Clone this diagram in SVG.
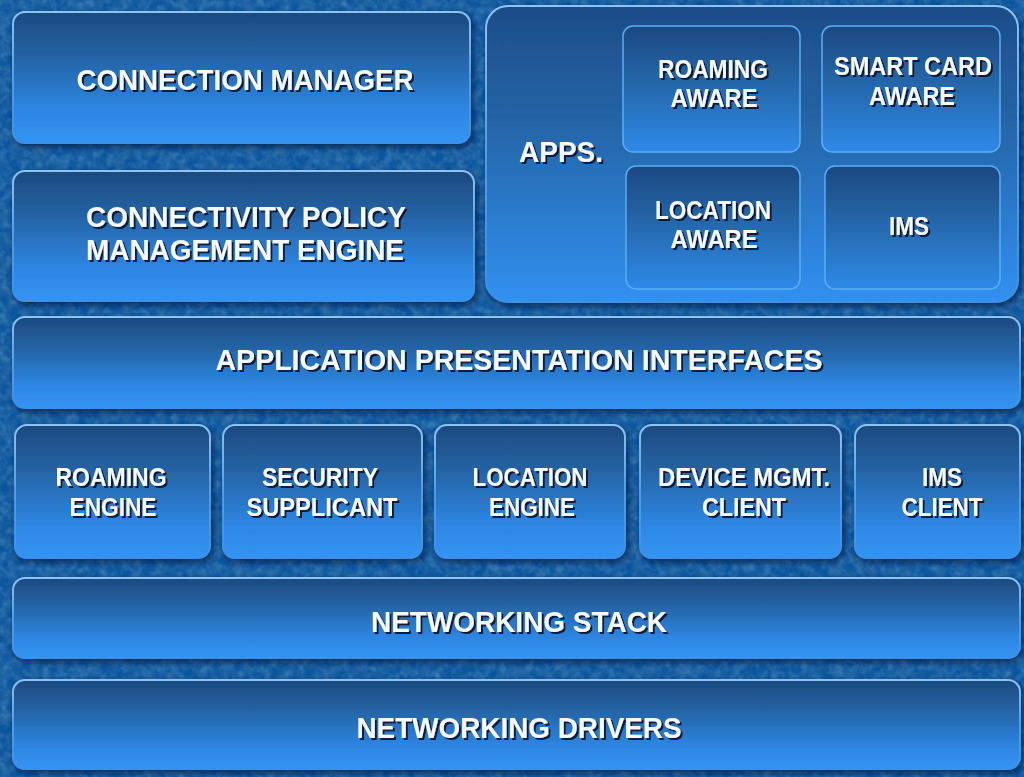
<svg xmlns="http://www.w3.org/2000/svg" width="1024" height="777" viewBox="0 0 1024 777">
<defs>
  <style>
    .box { fill: url(#boxg); stroke: url(#strk); stroke-width: 2; filter: url(#shadow); }
    .inner { fill: url(#innerg); stroke: #5aaef2; stroke-width: 1.5; }
    .apps { fill: url(#appsg); stroke: url(#strk); stroke-width: 2; filter: url(#shadow); }
    .lbl { font-family: "Liberation Sans", "DejaVu Sans", sans-serif; font-weight: bold; fill: #f4f8ff; text-anchor: middle; filter: url(#tshadow); }
    .big { font-size: 30px; }
    .sm { font-size: 26px; }
  </style>
  <linearGradient id="boxg" x1="0" y1="0" x2="0" y2="1">
    <stop offset="0" stop-color="#1d4a80"/>
    <stop offset="0.3" stop-color="#24609f"/>
    <stop offset="0.75" stop-color="#2e86e2"/>
    <stop offset="1" stop-color="#3394f4"/>
  </linearGradient>
  <linearGradient id="innerg" x1="0" y1="0" x2="0" y2="1">
    <stop offset="0" stop-color="#1c4882"/>
    <stop offset="0.35" stop-color="#23609f"/>
    <stop offset="1" stop-color="#2e8ae8"/>
  </linearGradient>
  <linearGradient id="appsg" x1="0" y1="0" x2="0" y2="1">
    <stop offset="0" stop-color="#1d4c88"/>
    <stop offset="0.4" stop-color="#2565a8"/>
    <stop offset="1" stop-color="#3190f0"/>
  </linearGradient>
  <linearGradient id="strk" x1="0" y1="0" x2="0" y2="1">
    <stop offset="0" stop-color="#8cc4f6"/>
    <stop offset="0.5" stop-color="#4f9ee6"/>
    <stop offset="1" stop-color="#3a90ea"/>
  </linearGradient>
  <filter id="shadow" x="-5%" y="-10%" width="112%" height="130%">
    <feDropShadow dx="2" dy="3" stdDeviation="3" flood-color="#021634" flood-opacity="0.7"/>
  </filter>
  <filter id="tshadow" x="-5%" y="-20%" width="115%" height="150%">
    <feDropShadow dx="2" dy="2" stdDeviation="0.4" flood-color="#07142e" flood-opacity="0.95"/>
  </filter>
  <filter id="tex" x="0" y="0" width="100%" height="100%">
    <feTurbulence type="fractalNoise" baseFrequency="0.09" numOctaves="3" seed="7" result="n"/>
    <feColorMatrix in="n" type="matrix" values="0 0 0 0 0.03  0 0 0 0 0.16  0 0 0 0 0.38  1.6 0 0 0 -0.5"/>
  </filter>
  <filter id="tex2" x="0" y="0" width="100%" height="100%">
    <feTurbulence type="fractalNoise" baseFrequency="0.14" numOctaves="2" seed="21" result="n"/>
    <feColorMatrix in="n" type="matrix" values="0 0 0 0 0.2  0 0 0 0 0.5  0 0 0 0 0.85  1.4 0 0 0 -0.62"/>
  </filter>
</defs>

<g id="background">
  <rect x="0" y="0" width="1024" height="777" fill="#0b559e"/>
  <rect x="0" y="0" width="1024" height="777" filter="url(#tex)"/>
  <rect x="0" y="0" width="1024" height="777" filter="url(#tex2)" opacity="0.45"/>
</g>

<g id="connection-manager">
  <rect class="box" x="13" y="12" width="457" height="131" rx="12"/>
  <text class="lbl big" x="245" y="90" textLength="337" lengthAdjust="spacingAndGlyphs">CONNECTION MANAGER</text>
</g>

<g id="connectivity-policy">
  <rect class="box" x="13" y="171" width="461" height="130" rx="12"/>
  <text class="lbl big" x="246" y="227" textLength="320" lengthAdjust="spacingAndGlyphs">CONNECTIVITY POLICY</text>
  <text class="lbl big" x="245" y="260" textLength="318" lengthAdjust="spacingAndGlyphs">MANAGEMENT ENGINE</text>
</g>

<g id="apps">
  <rect class="apps" x="486" y="6" width="532" height="296" rx="22"/>
  <text class="lbl big" x="561" y="162" textLength="84" lengthAdjust="spacingAndGlyphs">APPS.</text>
</g>

<g id="roaming-aware">
  <rect class="inner" x="623" y="26" width="177" height="126" rx="10"/>
  <text class="lbl sm" x="713" y="78" textLength="110" lengthAdjust="spacingAndGlyphs">ROAMING</text>
  <text class="lbl sm" x="714" y="107" textLength="87" lengthAdjust="spacingAndGlyphs">AWARE</text>
</g>

<g id="smart-card-aware">
  <rect class="inner" x="822" y="26" width="178" height="126" rx="10"/>
  <text class="lbl sm" x="913" y="75" textLength="158" lengthAdjust="spacingAndGlyphs">SMART CARD</text>
  <text class="lbl sm" x="912" y="105" textLength="86" lengthAdjust="spacingAndGlyphs">AWARE</text>
</g>

<g id="location-aware">
  <rect class="inner" x="626" y="166" width="174" height="123" rx="10"/>
  <text class="lbl sm" x="713" y="219" textLength="116" lengthAdjust="spacingAndGlyphs">LOCATION</text>
  <text class="lbl sm" x="714" y="248" textLength="87" lengthAdjust="spacingAndGlyphs">AWARE</text>
</g>

<g id="ims-app">
  <rect class="inner" x="825" y="166" width="175" height="123" rx="10"/>
  <text class="lbl sm" x="909" y="235" textLength="40" lengthAdjust="spacingAndGlyphs">IMS</text>
</g>

<g id="api">
  <rect class="box" x="13" y="317" width="1007" height="91" rx="12"/>
  <text class="lbl big" x="519" y="370" textLength="607" lengthAdjust="spacingAndGlyphs">APPLICATION PRESENTATION INTERFACES</text>
</g>

<g id="roaming-engine">
  <rect class="box" x="15" y="425" width="195" height="133" rx="12"/>
  <text class="lbl sm" x="111" y="486" textLength="111" lengthAdjust="spacingAndGlyphs">ROAMING</text>
  <text class="lbl sm" x="113" y="516" textLength="87" lengthAdjust="spacingAndGlyphs">ENGINE</text>
</g>

<g id="security-supplicant">
  <rect class="box" x="223" y="425" width="199" height="133" rx="12"/>
  <text class="lbl sm" x="320" y="486" textLength="116" lengthAdjust="spacingAndGlyphs">SECURITY</text>
  <text class="lbl sm" x="322" y="516" textLength="151" lengthAdjust="spacingAndGlyphs">SUPPLICANT</text>
</g>

<g id="location-engine">
  <rect class="box" x="435" y="425" width="190" height="133" rx="12"/>
  <text class="lbl sm" x="530" y="486" textLength="115" lengthAdjust="spacingAndGlyphs">LOCATION</text>
  <text class="lbl sm" x="532" y="516" textLength="86" lengthAdjust="spacingAndGlyphs">ENGINE</text>
</g>

<g id="device-mgmt-client">
  <rect class="box" x="640" y="425" width="201" height="133" rx="12"/>
  <text class="lbl sm" x="744" y="486" textLength="172" lengthAdjust="spacingAndGlyphs">DEVICE MGMT.</text>
  <text class="lbl sm" x="744" y="516" textLength="84" lengthAdjust="spacingAndGlyphs">CLIENT</text>
</g>

<g id="ims-client">
  <rect class="box" x="855" y="425" width="165" height="133" rx="12"/>
  <text class="lbl sm" x="942" y="486" textLength="40" lengthAdjust="spacingAndGlyphs">IMS</text>
  <text class="lbl sm" x="942" y="516" textLength="81" lengthAdjust="spacingAndGlyphs">CLIENT</text>
</g>

<g id="networking-stack">
  <rect class="box" x="13" y="578" width="1007" height="80" rx="12"/>
  <text class="lbl big" x="519" y="632" textLength="296" lengthAdjust="spacingAndGlyphs">NETWORKING STACK</text>
</g>

<g id="networking-drivers">
  <rect class="box" x="13" y="680" width="1007" height="89" rx="12"/>
  <text class="lbl big" x="519" y="738" textLength="325" lengthAdjust="spacingAndGlyphs">NETWORKING DRIVERS</text>
</g>

<g id="connectors"></g>
</svg>
